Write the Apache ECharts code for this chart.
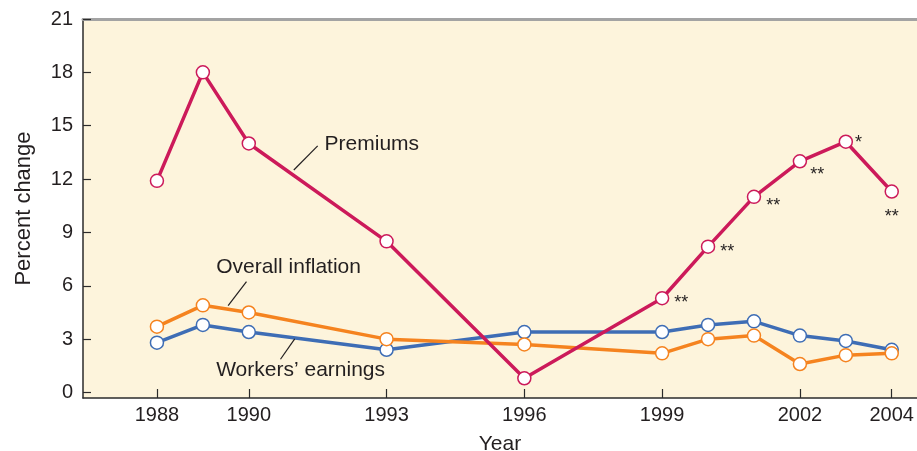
<!DOCTYPE html>
<html>
<head>
<meta charset="utf-8">
<script src="https://cdn.jsdelivr.net/npm/echarts@6/dist/echarts.min.js"></script>
<style>
  html, body { margin: 0; padding: 0; background: #fff; }
  #chart { width: 917px; height: 451px; }
</style>
</head>
<body>
<div id="chart"></div>
<script>
  // data
  const years = [1988, 1989, 1990, 1993, 1996, 1999, 2000, 2001, 2002, 2003, 2004];
  const premiums = [11.9, 18.0, 14.0, 8.5, 0.8, 5.3, 8.2, 11.0, 13.0, 14.1, 11.3];
  const inflation = [3.7, 4.9, 4.5, 3.0, 2.7, 2.2, 3.0, 3.2, 1.6, 2.1, 2.2];
  const earnings = [2.8, 3.8, 3.4, 2.4, 3.4, 3.4, 3.8, 4.0, 3.2, 2.9, 2.4];
  const premiumNotes = ['', '', '', '', '', '**', '**', '**', '**', '*', '**'];
  const xTicks = [1988, 1990, 1993, 1996, 1999, 2002, 2004];
  const yTicks = [0, 3, 6, 9, 12, 15, 18, 21];

  const textColor = '#231f20';
  const font = 'Liberation Sans, Arial, sans-serif';
  const cPrem = '#cc1a5a';
  const cInfl = '#f5831f';
  const cEarn = '#3e6db5';

  // where each asterisk sits next to its point
  const notePlace = {
    5: { position: 'right', offset: [0, 5] },
    6: { position: 'right', offset: [0, 5] },
    7: { position: 'right', offset: [0, 9] },
    8: { position: 'right', offset: [-2, 14] },
    9: { position: 'right', offset: [-3, 1] },
    10: { position: 'bottom', offset: [0, 4] }
  };

  function pairs(vals) {
    return years.map((y, i) => [y, vals[i]]);
  }

  function lineSeries(name, vals, color, extra) {
    return Object.assign({
      name: name,
      type: 'line',
      data: pairs(vals),
      symbol: 'circle',
      symbolSize: 13,
      lineStyle: { color: color, width: 3.5 },
      itemStyle: { color: '#fff', borderColor: color, borderWidth: 1.5 },
      emphasis: { disabled: true },
      animation: false
    }, extra || {});
  }

  function leader(from, to) {
    return [{ coord: from }, { coord: to }];
  }

  function tag(text, at) {
    return {
      coord: at,
      symbol: 'circle',
      symbolSize: 0,
      label: {
        show: true, formatter: text, position: 'right', distance: 0,
        color: textColor, fontSize: 21, fontFamily: font
      }
    };
  }

  const markLineBase = {
    silent: true,
    symbol: 'none',
    label: { show: false },
    lineStyle: { color: textColor, width: 1.2, type: 'solid' },
    animation: false
  };

  const chart = echarts.init(document.getElementById('chart'));
  const option = {
    backgroundColor: '#fff',
    grid: {
      left: 83, right: 0, top: 19, bottom: 53,
      containLabel: false,
      outerBoundsMode: 'none',
      show: true, backgroundColor: '#fdf4dc', borderWidth: 0
    },
    xAxis: [{
      type: 'value',
      min: 1986.39,
      max: 2004.55,
      name: 'Year',
      nameLocation: 'middle',
      nameGap: 36,
      nameTextStyle: { color: textColor, fontSize: 21, fontFamily: font },
      axisLine: { onZero: false, lineStyle: { color: '#2b2b2b', width: 1.5 } },
      axisTick: { inside: true, length: 9, customValues: xTicks, lineStyle: { color: '#2b2b2b', width: 1.2 } },
      axisLabel: {
        customValues: xTicks, margin: 7, color: textColor, fontSize: 20, fontFamily: font,
        formatter: v => String(v)
      },
      splitLine: { show: false }
    }, {
      type: 'value',
      position: 'top',
      min: 1986.39,
      max: 2004.55,
      axisLine: { onZero: false, lineStyle: { color: '#a3a3a3', width: 3 } },
      axisTick: { show: false },
      axisLabel: { show: false },
      splitLine: { show: false }
    }],
    yAxis: {
      type: 'value',
      min: -0.31,
      max: 21,
      name: 'Percent change',
      nameLocation: 'middle',
      nameGap: 48,
      nameTextStyle: { color: textColor, fontSize: 22, fontFamily: font },
      axisLine: { show: true, onZero: false, lineStyle: { color: '#2b2b2b', width: 1.5 } },
      axisTick: { show: true, inside: true, length: 8, customValues: yTicks, lineStyle: { color: '#2b2b2b', width: 1.2 } },
      axisLabel: { customValues: yTicks, margin: 10, color: textColor, fontSize: 20, fontFamily: font },
      splitLine: { show: false }
    },
    series: [
      lineSeries("Workers' earnings", earnings, cEarn, {
        markLine: Object.assign({ data: [leader([1990.69, 1.87], [1991.0, 3.01])] }, markLineBase),
        markPoint: { silent: true, animation: false, data: [tag('Workers\u2019 earnings', [1989.29, 1.23])] }
      }),
      lineSeries('Overall inflation', inflation, cInfl, {
        markLine: Object.assign({ data: [leader([1989.55, 4.88], [1989.95, 6.23])] }, markLineBase),
        markPoint: { silent: true, animation: false, data: [tag('Overall inflation', [1989.29, 7.07])] }
      }),
      lineSeries('Premiums', premiums, cPrem, {
        data: pairs(premiums).map((p, i) => {
          const item = { value: p };
          if (premiumNotes[i]) {
            item.label = Object.assign({
              show: true, formatter: premiumNotes[i], distance: 5,
              color: textColor, fontSize: 18, fontFamily: font
            }, notePlace[i]);
          }
          return item;
        }),
        markLine: Object.assign({ data: [leader([1990.98, 12.51], [1991.5, 13.87])] }, markLineBase),
        markPoint: { silent: true, animation: false, data: [tag('Premiums', [1991.65, 13.97])] }
      })
    ]
  };
  chart.setOption(option);
</script>
</body>
</html>
